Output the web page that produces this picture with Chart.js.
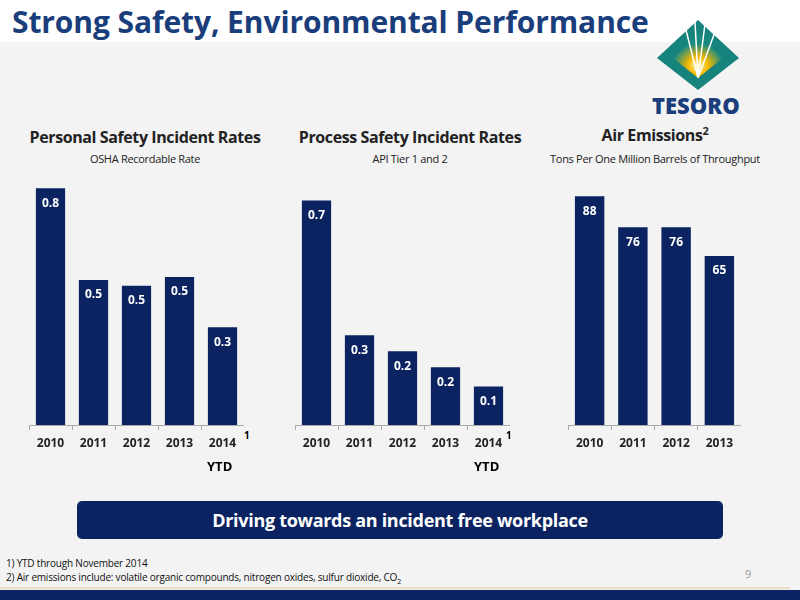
<!DOCTYPE html>
<html><head><meta charset="utf-8">
<script src="https://cdn.jsdelivr.net/npm/chart.js@4"></script>
<style>
body{margin:0;width:800px;height:600px;position:relative;overflow:hidden;background:#f3f3f3;font-family:"Open Sans",sans-serif}
.a{position:absolute}
canvas{position:absolute}
.t{font-weight:bold;font-size:16px;color:#222;text-align:center;letter-spacing:-0.4px}
.s{font-size:11px;color:#222;text-align:center;letter-spacing:-0.3px}
</style></head><body>
<div class="a" style="left:0;top:0;width:800px;height:42px;background:#fff"></div>
<div class="a" style="left:12px;top:1px;font-size:30px;font-weight:bold;color:#1a3d7c;letter-spacing:-0.1px">Strong Safety, Environmental Performance</div>
<svg class="a" style="left:655px;top:18px" width="86" height="72" viewBox="0 0 86 72">
<defs><radialGradient id="g" cx="0.5" cy="0.72" r="0.5"><stop offset="0" stop-color="#fff8c0"/><stop offset="0.4" stop-color="#f5b800"/><stop offset="1" stop-color="#1a8a80"/></radialGradient></defs>
<polygon points="43,2 84,40 43,72 2,40" fill="#16837c"/>
<polygon points="43,16 68,40 43,60 18,40" fill="url(#g)"/>
<path d="M43,60 L30,8 M43,60 L40,4 M43,60 L50,6 M43,60 L60,14" stroke="#fff" stroke-width="1.5"/>
</svg>
<div class="a" style="left:652px;top:90px;font-size:22px;font-weight:800;color:#1a3d7c;letter-spacing:0px">TESORO</div>
<div class="a t" style="left:10px;top:126px;width:270px">Personal Safety Incident Rates</div>
<div class="a s" style="left:10px;top:151px;width:270px">OSHA Recordable Rate</div>
<div class="a t" style="left:275px;top:126px;width:270px">Process Safety Incident Rates</div>
<div class="a s" style="left:275px;top:151px;width:270px">API Tier 1 and 2</div>
<div class="a t" style="left:555px;top:123px;width:200px">Air Emissions<sup style="font-size:11px">2</sup></div>
<div class="a s" style="left:530px;top:151px;width:250px">Tons Per One Million Barrels of Throughput</div>
<canvas id="c1" class="a" style="left:29px;top:160px;width:215px;height:300px" width="215" height="300"></canvas>
<canvas id="c2" class="a" style="left:295px;top:160px;width:215px;height:300px" width="215" height="300"></canvas>
<canvas id="c3" class="a" style="left:568px;top:160px;width:173px;height:300px" width="173" height="300"></canvas>
<div class="a" style="left:244px;top:428px;font-size:10px;font-weight:bold">1</div>
<div class="a" style="left:207px;top:457px;font-size:13px;font-weight:bold">YTD</div>
<div class="a" style="left:506px;top:428px;font-size:10px;font-weight:bold">1</div>
<div class="a" style="left:474px;top:457px;font-size:13px;font-weight:bold">YTD</div>
<div class="a" style="left:77px;top:501px;width:646px;height:38px;background:#0b2461;border-radius:5px;color:#fff;font-size:18px;font-weight:bold;text-align:center;line-height:38px;letter-spacing:-0.3px">Driving towards an incident free workplace</div>
<div class="a" style="left:6px;top:556px;font-size:10px;color:#111;letter-spacing:-0.2px">1) YTD through November 2014</div>
<div class="a" style="left:6px;top:570px;font-size:10px;color:#111;letter-spacing:-0.2px">2) Air emissions include: volatile organic compounds, nitrogen oxides, sulfur dioxide, CO<sub style="font-size:7px">2</sub></div>
<div class="a" style="left:745px;top:566px;font-size:11px;color:#999">9</div>
<div class="a" style="left:0;top:587px;width:790px;height:2px;background:#e8dcc0"></div>
<div class="a" style="left:0;top:590px;width:800px;height:10px;background:#0b2461"></div>
<script>
const cats1=["2010","2011","2012","2013","2014"];
const vals1=[0.80,0.49,0.47,0.50,0.33];
const labels1=["0.8","0.5","0.5","0.5","0.3"];
const cats2=["2010","2011","2012","2013","2014"];
const vals2=[0.70,0.28,0.23,0.18,0.12];
const labels2=["0.7","0.3","0.2","0.2","0.1"];
const cats3=["2010","2011","2012","2013"];
const vals3=[88,76,76,65];
const labels3=["88","76","76","65"];
const lbl={id:'lbl',afterDatasetsDraw(ch){const c=ch.ctx;const L=ch.options.plugins.lbl.texts;
 ch.getDatasetMeta(0).data.forEach((b,i)=>{c.save();c.fillStyle='#fff';c.font='bold 12px "Open Sans", sans-serif';c.textAlign='center';c.textBaseline='middle';c.fillText(L[i],b.x,b.y+15);c.restore();});}};
function mk(id,cats,vals,labs,max){
 new Chart(document.getElementById(id),{type:'bar',data:{labels:cats,datasets:[{data:vals,backgroundColor:'#0b2461',categoryPercentage:1,barPercentage:0.68}]},
 options:{responsive:false,animation:false,layout:{padding:0},plugins:{legend:{display:false},tooltip:{enabled:false},lbl:{texts:labs}},
 scales:{y:{display:false,min:0,max:max},x:{grid:{drawOnChartArea:false,color:'#aaa',tickLength:5,offset:true},border:{color:'#aaa'},
 ticks:{color:'#222',font:{size:12,weight:'bold',family:'"Open Sans", sans-serif'},padding:6},afterFit(s){s.height=35;}}}},plugins:[lbl]});
}
mk('c1',cats1,vals1,labels1,0.895);
mk('c2',cats2,vals2,labels2,0.826);
mk('c3',cats3,vals3,labels3,101.9);
</script>
</body></html>
